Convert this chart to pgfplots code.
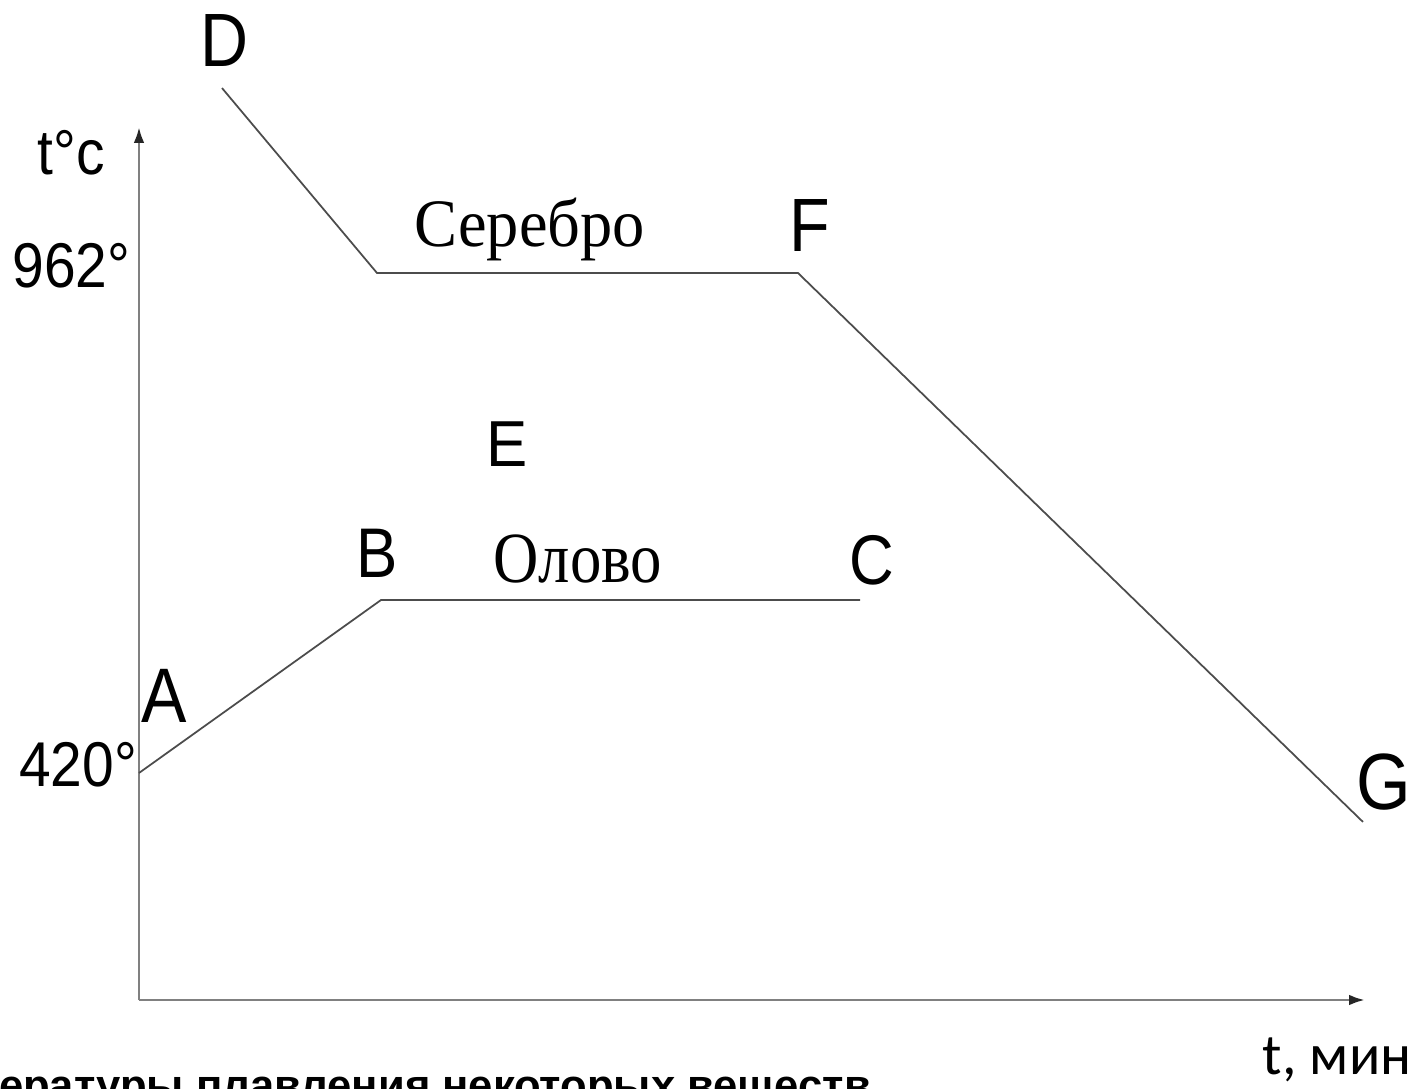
\documentclass[border=0pt]{standalone}
\usepackage{fontspec}
\setmainfont{Liberation Sans}
\newfontfamily\serifcyr{Liberation Serif}
\newfontfamily\carl{Carlito}
\usepackage{graphicx}
\usepackage{pgfplots}
\pgfplotsset{compat=1.18}
\usetikzlibrary{arrows.meta}
\newcommand\fs[1]{\fontsize{#1}{#1}\selectfont}
\newcommand\nx[2][0.88]{\scalebox{#1}[1]{#2}}

\begin{document}
\begin{tikzpicture}
\path[use as bounding box] (0,0) rectangle (14.14cm,-10.89cm);
\begin{axis}[
  at={(1.39cm,-10.00cm)}, anchor=south west,
  scale only axis, width=12.26cm, height=8.73cm,
  xmin=0, xmax=122.6, ymin=173.9, ymax=1120.3,
  axis lines=left, enlargelimits=false,
  axis line style={line width=0.8pt, draw=black!50,
    -{Latex[length=4.5pt,width=3pt,color=black!85]}},
  xtick=\empty, ytick=\empty,
  clip=false,
]
% Silver: D -> plateau -> F -> G
\addplot[black!70, line width=0.5pt] coordinates {(8.3,1162.5) (23.8,962) (65.9,962) (122.4,366.9)};
% Tin: A -> B -> C
\addplot[black!70, line width=0.5pt] coordinates {(0,420) (24.2,607.5) (72.1,607.5)};
\end{axis}
\begin{scope}[x=0.01cm, y=-0.01cm]
  \node[anchor=base, inner sep=0] at (225,67) {\fs{21.5}\nx{D}};
  \node[anchor=base, inner sep=0] at (71,175) {\fs{18}\nx[0.9]{t°c}};
  \node[anchor=base, inner sep=0] at (71.5,288) {\fs{18}\nx[0.9]{962°}};
  \node[anchor=base, inner sep=0] at (78,787) {\fs{18}\nx[0.9]{420°}};
  \node[anchor=base, inner sep=0] at (530,247) {\serifcyr\fs{19.3}\nx[0.95]{Серебро}};
  \node[anchor=base, inner sep=0] at (810,252) {\fs{21.5}\nx{F}};
  \node[anchor=base, inner sep=0] at (507,467) {\fs{18.5}\nx[0.95]{E}};
  \node[anchor=base, inner sep=0] at (377,578) {\fs{20}\nx{B}};
  \node[anchor=base, inner sep=0] at (578,583) {\serifcyr\fs{20.5}\nx[0.87]{Олово}};
  \node[anchor=base, inner sep=0] at (872,585) {\fs{20}\nx{C}};
  \node[anchor=base, inner sep=0] at (164,723) {\fs{22}\nx{A}};
  \node[anchor=base, inner sep=0] at (1385,810) {\fs{22.7}\nx{G}};
  \node[anchor=base, inner sep=0] at (1338,1075) {\carl\fs{16.5}t, мин};
  \node[anchor=base east, inner sep=0] at (872,1101) {\fs{12.4}\bfseries Температуры плавления некоторых веществ};
\end{scope}
\end{tikzpicture}
\end{document}
